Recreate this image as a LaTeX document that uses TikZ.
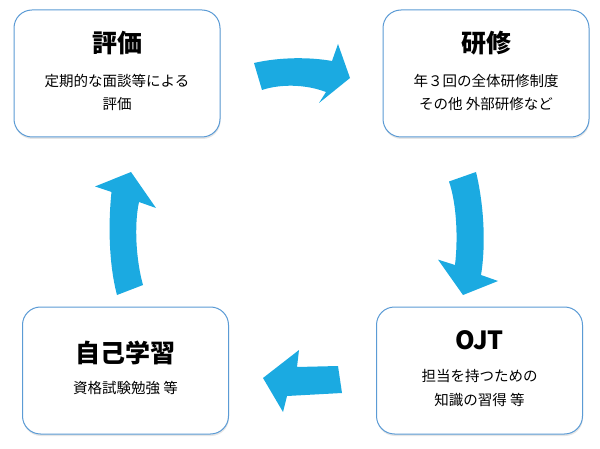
\documentclass[tikz,border=0pt]{standalone}
\usepackage{fontspec}
\setmainfont{Noto Sans CJK JP}
\usepackage{tikz}
\usetikzlibrary{shadows}
\definecolor{cardline}{RGB}{91,155,213}
\definecolor{arrowblue}{RGB}{27,170,225}
\tikzstyle{card} = [draw=cardline, line width=1pt, fill=white, rounded corners=18pt, minimum width=206pt, minimum height=127pt, drop shadow={opacity=0.2, shadow xshift=0.5pt, shadow yshift=-2pt}]
\tikzstyle{title} = [font=\fontsize{25}{25}\selectfont\bfseries, inner sep=0pt]
\tikzstyle{sub} = [font=\fontsize{14.5}{23.5}\selectfont, align=center, inner sep=0pt]
\tikzstyle{bigarrow} = [fill=arrowblue]

\begin{document}
\begin{tikzpicture}[x=1pt,y=-1pt]
\useasboundingbox (0,0) rectangle (600,449);
% cards
\node[card] (hyouka) at (117,73.5) {};
\node[card] (kenshu) at (486,73.5) {};
\node[card] (ojt) at (479.5,370.5) {};
\node[card] (jiko) at (125.5,370.5) {};
% texts
\node[title] (hyoukaT) at (117,43) {評価};
\node[sub] (hyoukaS) at (117,92.5) {定期的な面談等による\\評価};
\node[title] (kenshuT) at (486,43) {研修};
\node[sub] (kenshuS) at (486,92.5) {年３回の全体研修制度\\その他 外部研修など};
\node[title] (ojtT) at (479.5,340) {OJT};
\node[sub] (ojtS) at (479.5,388) {担当を持つための\\知識の習得 等};
\node[title] (jikoT) at (125.5,353) {自己学習};
\node[sub] (jikoS) at (125.5,388) {資格試験勉強 等};
% arrows
\fill[bigarrow] (254,63) .. controls (280,57) and (310,57) .. (332,61) -- (338,44) -- (350,78) -- (319,103) -- (326,92) .. controls (305,84) and (280,84) .. (262,90) -- cycle;
\fill[bigarrow] (476,172) .. controls (484,205) and (486,245) .. (481,275) -- (498,281) -- (463,295) -- (438,259.6) -- (455,265) .. controls (458,240) and (457,205) .. (449,181.5) -- cycle;
\fill[bigarrow] (342,393) -- (338,366) -- (297,367) -- (299,350) -- (263,378) -- (283,412) -- (287,396) -- cycle;
\fill[bigarrow] (117,295) .. controls (109,265) and (108,225) .. (111.5,192) -- (95,186.5) -- (131,172) -- (156,208) -- (139,202) .. controls (134,225) and (136,260) .. (143,285) -- cycle;
\end{tikzpicture}
\end{document}
